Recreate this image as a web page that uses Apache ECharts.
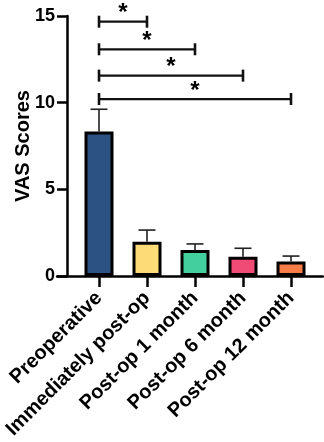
<!DOCTYPE html>
<html>
<head>
<meta charset="utf-8">
<script src="https://cdn.jsdelivr.net/npm/echarts@6/dist/echarts.min.js"></script>
<style>
  html, body { margin: 0; padding: 0; background: #fff; }
  #chart { width: 324px; height: 442px; }
</style>
</head>
<body>
<div id="chart"></div>
<script>
var categories = ['Preoperative', 'Immediately post-op', 'Post-op 1 month', 'Post-op 6 month', 'Post-op 12 month'];
var means = [8.33, 1.98, 1.5, 1.11, 0.83];
var upper = [9.62, 2.65, 1.85, 1.6, 1.15];
var yTicks = [0, 5, 10, 15];
var bracketFrom = [0, 0, 0, 0];
var bracketTo = [1, 2, 3, 4];
var bracketY = [14.67, 13.08, 11.56, 10.21];
var bracketText = ['*', '*', '*', '*'];

var palette = ['#2b5283', '#fddc78', '#44cf9f', '#f04a76', '#f77c48'];
var font = 'Liberation Sans, Arial, sans-serif';

var chart = echarts.init(document.getElementById('chart'));

var barData = means.map(function (v, i) {
    return { value: v, itemStyle: { color: palette[i] } };
});
var errData = means.map(function (v, i) { return [i, v, upper[i]]; });
var brData = bracketY.map(function (y, i) { return [bracketFrom[i], bracketTo[i], y]; });

var option = {
    animation: false,
    grid: [
        { left: 75, right: 9, top: 16, bottom: 166, containLabel: false, outerBoundsMode: 'none' },
        { left: 57, right: 1, top: 16, bottom: 166, containLabel: false, outerBoundsMode: 'none' }
    ],
    xAxis: [
        {
            type: 'category',
            gridIndex: 0,
            data: categories,
            axisLine: { show: false },
            axisTick: { show: true, alignWithLabel: true, length: 11, lineStyle: { color: '#000', width: 2.5 } },
            axisLabel: {
                interval: 0,
                rotate: 45,
                margin: 19,
                color: '#000',
                fontSize: 20,
                fontWeight: 'bold',
                fontFamily: font
            },
            splitLine: { show: false }
        },
        {
            type: 'value',
            gridIndex: 1,
            min: 0,
            max: 1,
            axisLine: { show: true, lineStyle: { color: '#000', width: 2.5 } },
            axisTick: { show: false },
            axisLabel: { show: false },
            splitLine: { show: false }
        }
    ],
    yAxis: [
        {
            type: 'value',
            gridIndex: 0,
            min: yTicks[0],
            max: yTicks[yTicks.length - 1],
            interval: 5,
            offset: 8,
            name: 'VAS Scores',
            nameLocation: 'middle',
            nameGap: 34,
            nameMoveOverlap: false,
            nameTextStyle: { color: '#000', fontSize: 20, fontWeight: 'bold', fontFamily: font },
            axisLine: { show: true, lineStyle: { color: '#000', width: 2.5 } },
            axisTick: { show: true, length: 10, lineStyle: { color: '#000', width: 2.5 } },
            axisLabel: { margin: 12, color: '#000', fontSize: 18, fontWeight: 'bold', fontFamily: font },
            splitLine: { show: false }
        },
        {
            type: 'value',
            gridIndex: 1,
            show: false
        }
    ],
    series: [
        {
            type: 'bar',
            xAxisIndex: 0,
            yAxisIndex: 0,
            barWidth: 29,
            data: barData,
            itemStyle: { borderColor: '#000', borderWidth: 3 },
            z: 3
        },
        {
            // upper error whiskers
            type: 'custom',
            xAxisIndex: 0,
            yAxisIndex: 0,
            data: errData,
            z: 2,
            renderItem: function (params, api) {
                var lo = api.coord([api.value(0), api.value(1)]);
                var hi = api.coord([api.value(0), api.value(2)]);
                var half = 8.5;
                var st = { stroke: '#222', lineWidth: 1.6 };
                return {
                    type: 'group',
                    children: [
                        { type: 'line', shape: { x1: lo[0], y1: lo[1], x2: hi[0], y2: hi[1] }, style: st },
                        { type: 'line', shape: { x1: hi[0] - half, y1: hi[1], x2: hi[0] + half, y2: hi[1] }, style: st }
                    ]
                };
            }
        },
        {
            // significance brackets
            type: 'custom',
            xAxisIndex: 0,
            yAxisIndex: 0,
            data: brData,
            z: 4,
            clip: false,
            renderItem: function (params, api) {
                var a = api.coord([api.value(0), api.value(2)]);
                var b = api.coord([api.value(1), api.value(2)]);
                var cap = 6;
                var st = { stroke: '#111', lineWidth: 2.2 };
                var stCap = { stroke: '#111', lineWidth: 2.6 };
                return {
                    type: 'group',
                    children: [
                        { type: 'line', shape: { x1: a[0], y1: a[1], x2: b[0], y2: b[1] }, style: st },
                        { type: 'line', shape: { x1: a[0], y1: a[1] - cap, x2: a[0], y2: a[1] + cap }, style: stCap },
                        { type: 'line', shape: { x1: b[0], y1: b[1] - cap, x2: b[0], y2: b[1] + cap }, style: stCap },
                        {
                            type: 'text',
                            style: {
                                text: bracketText[params.dataIndex],
                                x: (a[0] + b[0]) / 2,
                                y: a[1] - 8,
                                align: 'center',
                                verticalAlign: 'middle',
                                fill: '#000',
                                font: 'bold 24px ' + font
                            }
                        }
                    ]
                };
            }
        }
    ]
};

chart.setOption(option);
</script>
</body>
</html>
